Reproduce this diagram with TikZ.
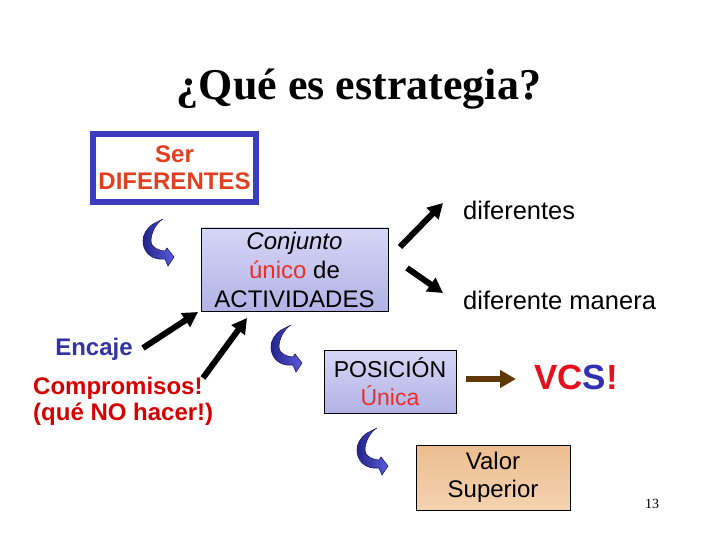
\documentclass[tikz,border=0pt]{standalone}
\usepackage{fontspec}
\setmainfont{Liberation Sans}
\newfontfamily\tnr{Liberation Serif}
\usetikzlibrary{arrows.meta}
\definecolor{serred}{RGB}{226,62,32}
\definecolor{boxblue}{RGB}{60,60,190}
\definecolor{unired}{RGB}{232,48,40}
\definecolor{encblue}{RGB}{52,52,160}
\definecolor{comred}{RGB}{214,0,0}
\definecolor{vred}{RGB}{228,16,28}
\definecolor{vblue}{RGB}{48,48,176}
\definecolor{brownarr}{RGB}{96,56,8}
\definecolor{lavtop}{RGB}{178,178,230}
\definecolor{lavbot}{RGB}{214,214,246}
\definecolor{tantop}{RGB}{244,210,176}
\definecolor{tanbot}{RGB}{236,190,144}
\definecolor{cvdark}{RGB}{36,36,140}
\definecolor{cvlight}{RGB}{92,92,222}
\definecolor{cvline}{RGB}{28,28,100}
% note: y axis points down, so "bottom color" shades the visual top
\tikzset{
  txt/.style={inner sep=0pt, align=center, font=\fontsize{25.5}{29}\selectfont},
  lavbox/.style={draw=black, line width=0.8pt, bottom color=lavtop, top color=lavbot, inner sep=0pt, align=center, font=\fontsize{24}{29}\selectfont},
  blk/.style={line width=6pt, -{Triangle[length=15pt,width=16pt]}},
  brn/.style={draw=brownarr, line width=6pt, -{Triangle[length=16pt,width=17pt]}},
  curv/.pic={
    \path[left color=cvdark, right color=cvlight, draw=cvline, line width=0.6pt]
      (10,5) .. controls (3,10) and (0,16) .. (0,22)
      .. controls (0,32) and (7,39) .. (16,40)
      -- (22,40) -- (25,47) -- (31,38) -- (24,29) -- (22,32)
      .. controls (17,32) and (8,29) .. (8,22)
      .. controls (8,14) and (13,4) .. (20,0) -- cycle;
  }
}
\begin{document}
\begin{tikzpicture}[x=1pt,y=-1pt]
\useasboundingbox (0,0) rectangle (720,540);

% title
\node[font=\tnr\bfseries\fontsize{44}{50}\selectfont, anchor=base] (title) at (359,100) {¿Qué es estrategia?};

% Ser DIFERENTES
\node[draw=boxblue, line width=6pt, minimum width=163pt, minimum height=68pt, inner sep=0pt, align=center,
      font=\bfseries\fontsize{24}{27}\selectfont, text=serred] (ser) at (174.5,168) {Ser\\DIFERENTES};

% Conjunto
\node[lavbox, minimum width=187pt, minimum height=83pt] (conj) at (294.5,269.5)
  {\textit{Conjunto}\\\textcolor{unired}{único} de\\ACTIVIDADES};

% POSICION
\node[lavbox, minimum width=132pt, minimum height=63pt, font=\fontsize{23}{28}\selectfont] (pos) at (390,381.5)
  {POSICIÓN\\\textcolor{unired}{Única}};

% Valor superior
\node[draw=black, line width=0.8pt, bottom color=tantop, top color=tanbot, inner sep=0pt, align=center,
      minimum width=154pt, minimum height=65pt, font=\fontsize{24}{28}\selectfont] (val) at (493,477.5)
  {Valor\\Superior};

% side texts
\node[txt, anchor=west] (dif1) at (463,210) {diferentes};
\node[txt, anchor=west] (dif2) at (463,300) {diferente manera};
\node[inner sep=0pt, font=\bfseries\fontsize{24}{28}\selectfont, text=encblue] (enc) at (94,349) {Encaje};
\node[inner sep=0pt, anchor=west, font=\bfseries\fontsize{24}{26}\selectfont, text=comred] (comp1) at (33,388) {Compromisos!};
\node[inner sep=0pt, anchor=west, font=\bfseries\fontsize{24}{26}\selectfont, text=comred] (comp2) at (33,414) {(qué NO hacer!)};
\node[inner sep=0pt, font=\bfseries\fontsize{35}{40}\selectfont] (vcs) at (576,377)
  {\textcolor{vred}{VC}\textcolor{vblue}{S}\textcolor{vred}{!}};
\node[inner sep=0pt, font=\tnr\fontsize{14}{16}\selectfont] (pg) at (652,504) {13};

% connector end points
\coordinate (a1s) at (143,348);
\coordinate (a1e) at (198,312);
\coordinate (a2s) at (203,378);
\coordinate (a2e) at (247,318);
\coordinate (a3s) at (400,247);
\coordinate (a3e) at (443,203);
\coordinate (a4s) at (407,268);
\coordinate (a4e) at (443,293);
\coordinate (a5s) at (466,379);
\coordinate (a5e) at (516,379);

\draw[blk] (a1s) -- (a1e);
\draw[blk] (a2s) -- (a2e);
\draw[blk] (a3s) -- (a3e);
\draw[blk] (a4s) -- (a4e);
\draw[brn] (a5s) -- (a5e);

% curved arrows
\pic at (143,219) {curv};
\pic at (271,325) {curv};
\pic at (357,428) {curv};
\end{tikzpicture}
\end{document}
